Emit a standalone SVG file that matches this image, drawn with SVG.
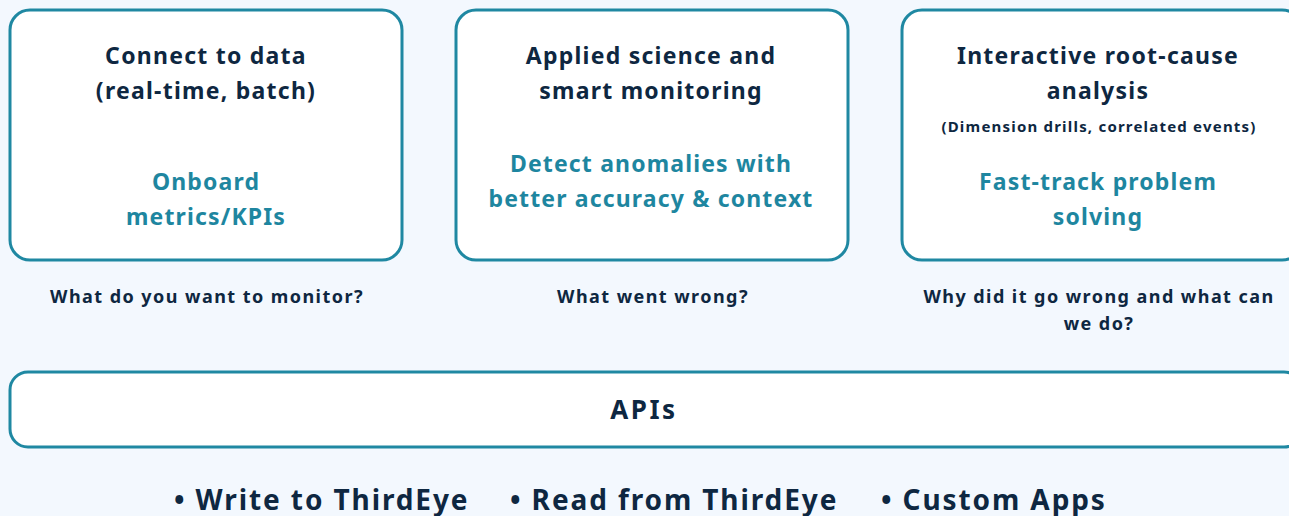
<svg xmlns="http://www.w3.org/2000/svg" width="1289" height="516" viewBox="0 0 1289 516">
  <style>
    .card { fill: #ffffff; stroke: #1f88a2; stroke-width: 3; }
    .t { font-family: "Noto Sans", "Liberation Sans", sans-serif; font-weight: 700; text-anchor: middle; }
    .head { fill: #0e2741; font-size: 23px; letter-spacing: 1.25px; }
    .api { fill: #0e2741; font-size: 26px; letter-spacing: 2.5px; }
    .sub { fill: #1e86a0; font-size: 23px; letter-spacing: 1.15px; }
    .note { fill: #0e2741; font-size: 15px; letter-spacing: 1.2px; }
    .q { fill: #0e2741; font-size: 18px; letter-spacing: 1.45px; }
    .bul { fill: #0e2741; font-size: 28px; letter-spacing: 1.9px; text-anchor: start; }
  </style>
  <rect width="1289" height="516" fill="#f3f8fe"/>

  <g id="connect">
    <rect class="card" x="10" y="10" width="392" height="250" rx="20"/>
    <text class="t head" x="206" y="64">Connect to data</text>
    <text class="t head" x="206" y="99">(real-time, batch)</text>
    <text class="t sub" x="206" y="190">Onboard</text>
    <text class="t sub" x="206" y="225">metrics/KPIs</text>
  </g>

  <g id="detect">
    <rect class="card" x="456" y="10" width="392" height="250" rx="20"/>
    <text class="t head" x="651" y="64">Applied science and</text>
    <text class="t head" x="651" y="99">smart monitoring</text>
    <text class="t sub" x="651" y="172">Detect anomalies with</text>
    <text class="t sub" x="651" y="207">better accuracy &amp; context</text>
  </g>

  <g id="rca">
    <rect class="card" x="902" y="10" width="400" height="250" rx="20"/>
    <text class="t head" x="1098" y="64">Interactive root-cause</text>
    <text class="t head" x="1098" y="99">analysis</text>
    <text class="t note" x="1099" y="132">(Dimension drills, correlated events)</text>
    <text class="t sub" x="1098" y="190">Fast-track problem</text>
    <text class="t sub" x="1098" y="225">solving</text>
  </g>

  <g id="questions">
    <text class="t q" x="207" y="303">What do you want to monitor?</text>
    <text class="t q" x="653" y="303">What went wrong?</text>
    <text class="t q" x="1099" y="303">Why did it go wrong and what can</text>
    <text class="t q" x="1099" y="330">we do?</text>
  </g>

  <g id="apis">
    <rect class="card" x="10" y="372" width="1292" height="75" rx="18"/>
    <text class="t api" x="644" y="419">APIs</text>
  </g>

  <g id="uses">
    <text class="t bul" x="174" y="510">• Write to ThirdEye</text>
    <text class="t bul" x="510" y="510">• Read from ThirdEye</text>
    <text class="t bul" x="881" y="510">• Custom Apps</text>
  </g>

  <g id="connectors"/>
</svg>
